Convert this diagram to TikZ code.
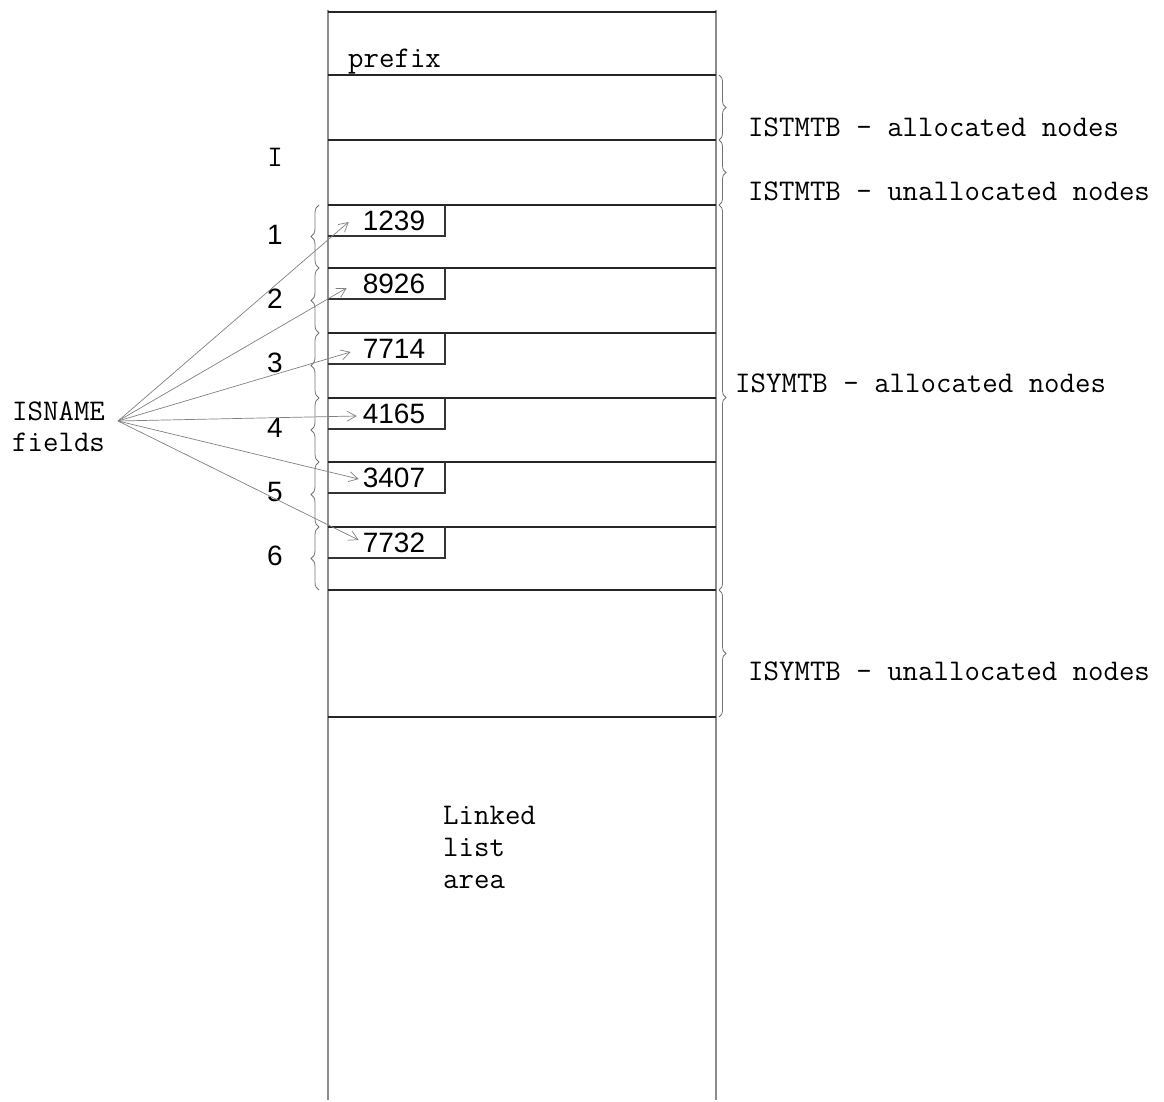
\documentclass[tikz,border=0pt]{standalone}
\usepackage{fontspec}
\newfontfamily\digfont{Liberation Sans}
\usetikzlibrary{decorations.pathreplacing,arrows.meta}
\begin{document}
\begin{tikzpicture}[x=1pt,y=-1pt,
  rowline/.style={line width=1.8pt,black!85},
  colline/.style={line width=1.5pt,black!45},
  boxline/.style={line width=1.3pt,black!80},
  bracel/.style={decorate,decoration={brace,amplitude=8pt},line width=0.8pt,black!55},
  bracer/.style={decorate,decoration={brace,amplitude=7pt},line width=0.8pt,black!55},
  ptr/.style={-{Straight Barb[length=9pt,width=10pt]},line width=0.7pt,black!50},
  tw/.style={font=\ttfamily\fontsize{30}{32}\selectfont,inner sep=0pt},
  num/.style={font=\digfont\fontsize{28}{30}\selectfont,inner sep=0pt},
]
\useasboundingbox (0,0) rectangle (1164,1102);
% column
\draw[colline] (328,10) -- (328,1100);
\draw[colline] (716,10) -- (716,1100);
\foreach \y in {12,75,140,205,268,333,398,462,527,590,717}
  \draw[rowline] (328,\y) -- (716,\y);
% field boxes
\foreach \r/\v/\n in {205/1239/1,268/8926/2,333/7714/3,398/4165/4,462/3407/5,527/7732/6}{
  \draw[boxline] (328,\r+31) -- (445,\r+31) -- (445,\r);
  \node[num] (f\n) at (394,\r+16) {\v};
}
% texts in column
\node[tw,anchor=base west] (prefix) at (348,68) {prefix};
\node[tw,anchor=base west] (ll) at (443,824) {Linked};
\node[tw,anchor=base west] (ls) at (443,856) {list};
\node[tw,anchor=base west] (la) at (443,888) {area};
% left labels
\node[tw] (I) at (275,157) {I};
\foreach \n/\y in {1/235,2/299,3/363,4/428,5/492,6/556}
  \node[num] (n\n) at (275,\y) {\n};
% left braces
\foreach \a/\b in {205/268,268/333,333/398,398/462,462/527,527/590}
  \draw[bracel] (319,\b) -- (319,\a);
% right braces
\draw[bracer] (719,75) -- (719,140);
\draw[bracer] (719,140) -- (719,205);
\draw[bracer] (719,205) -- (719,590);
\draw[bracer] (719,590) -- (719,717);
\node[tw,anchor=west] (r1) at (748,127) {ISTMTB - allocated nodes};
\node[tw,anchor=west] (r2) at (748,191) {ISTMTB - unallocated nodes};
\node[tw,anchor=west] (r3) at (735,383) {ISYMTB - allocated nodes};
\node[tw,anchor=west] (r4) at (748,671) {ISYMTB - unallocated nodes};
% ISNAME
\node[tw,anchor=base west] (isn) at (12,420) {ISNAME};
\node[tw,anchor=base west] (fld) at (12,451) {fields};
\coordinate (src) at (118,421);
\draw[ptr] (src) -- ([xshift=-14pt,yshift=-1pt]f1.west);
\draw[ptr] (src) -- ([xshift=-16pt,yshift=-4pt]f2.west);
\draw[ptr] (src) -- ([xshift=-12pt,yshift=-3pt]f3.west);
\draw[ptr] (src) -- ([xshift=-6pt,yshift=-2pt]f4.west);
\draw[ptr] (src) -- ([xshift=-4pt,yshift=-1pt]f5.west);
\draw[ptr] (src) -- ([xshift=-4pt,yshift=3pt]f6.west);
\end{tikzpicture}
\end{document}
